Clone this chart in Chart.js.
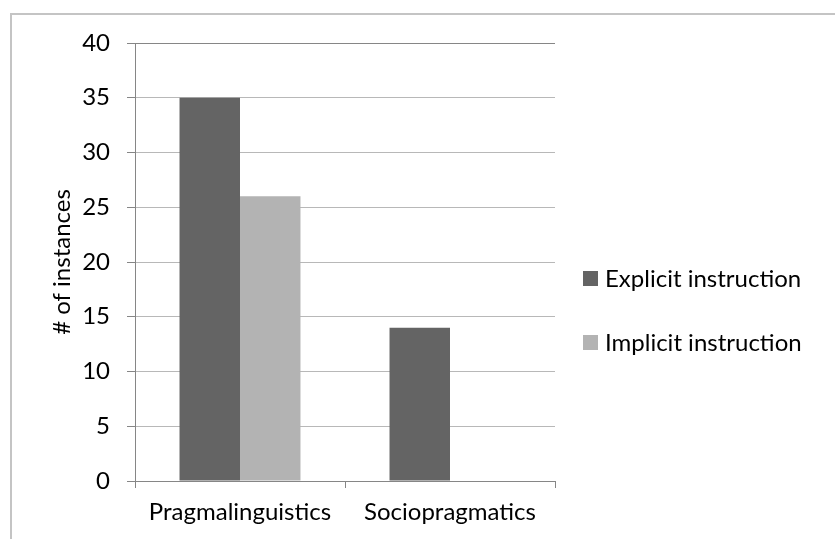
<!DOCTYPE html>
<html>
<head>
<meta charset="utf-8">
<script src="https://cdn.jsdelivr.net/npm/chart.js@4/dist/chart.umd.min.js"></script>
<style>
  html, body { margin: 0; padding: 0; background: #fff; }
  #wrap { position: relative; width: 835px; height: 539px; overflow: hidden; }
  #frame { position: absolute; left: 10px; top: 13px; width: 900px; height: 600px;
           border-top: 2px solid #c4c4c4; border-left: 2px solid #c4c4c4; box-sizing: border-box; }
  canvas { position: absolute; left: 0; top: 0; }
</style>
</head>
<body>
<div id="wrap">
  <div id="frame"></div>
  <canvas id="chart" width="835" height="539"></canvas>
</div>
<script>
// Instruction type counts per pragmatic category
const categories = ['Pragmalinguistics', 'Sociopragmatics'];
const explicitInstruction = [35, 14];
const implicitInstruction = [26, 0];
const seriesNames = ['Explicit instruction', 'Implicit instruction'];
const yTicks = [0, 5, 10, 15, 20, 25, 30, 35, 40];
const yTitle = '# of instances';

const FONT = 'Lato, Carlito, Calibri, sans-serif';
const colors = ['#646464', '#b3b3b3'];

// Legend drawn at the right of the plot, squares followed by series names
const sideLegend = {
  id: 'sideLegend',
  afterDraw(chart) {
    const ctx = chart.ctx;
    ctx.save();
    ctx.font = '24px ' + FONT;
    ctx.textBaseline = 'middle';
    ctx.textAlign = 'left';
    chart.data.datasets.forEach((ds, i) => {
      const cy = 278.5 + i * 64;
      ctx.fillStyle = ds.backgroundColor;
      ctx.fillRect(583, cy - 7.5, 15, 15);
      ctx.fillStyle = '#000';
      ctx.fillText(ds.label, 605, cy + 1);
    });
    ctx.restore();
  }
};

new Chart(document.getElementById('chart'), {
  type: 'bar',
  data: {
    labels: categories,
    datasets: [
      { label: seriesNames[0], data: explicitInstruction, backgroundColor: colors[0] },
      { label: seriesNames[1], data: implicitInstruction, backgroundColor: colors[1] }
    ]
  },
  options: {
    responsive: false,
    animation: false,
    devicePixelRatio: 1,
    layout: { padding: { left: 0, right: 280, top: 43, bottom: 0 } },
    datasets: { bar: { categoryPercentage: 0.576, barPercentage: 1.0, borderWidth: 0 } },
    plugins: { legend: { display: false }, tooltip: { enabled: false } },
    scales: {
      x: {
        afterFit(scale) { scale.height = 539 - 481; },
        grid: { display: true, drawOnChartArea: false, offset: true, color: '#868686', tickLength: 7, lineWidth: 1 },
        border: { display: true, color: '#868686', width: 1 },
        ticks: { color: '#000', font: { family: FONT, size: 24 }, padding: 10 }
      },
      y: {
        min: 0, max: 40,
        afterFit(scale) { scale.width = 135; },
        afterBuildTicks(scale) { scale.ticks = yTicks.map(v => ({ value: v })); },
        grid: {
          color: (c) => c.tick && (c.tick.value === 0 || c.tick.value === 40) ? '#868686' : '#b8b8b8',
          tickColor: '#868686', tickLength: 8, lineWidth: 1
        },
        border: { display: true, color: '#868686', width: 1 },
        ticks: { color: '#000', font: { family: FONT, size: 24 }, padding: 17, stepSize: 5 },
        title: { display: true, text: yTitle, color: '#000', font: { family: FONT, size: 24 }, padding: { top: 48, bottom: 0 } }
      }
    }
  },
  plugins: [sideLegend]
});
</script>
</body>
</html>
